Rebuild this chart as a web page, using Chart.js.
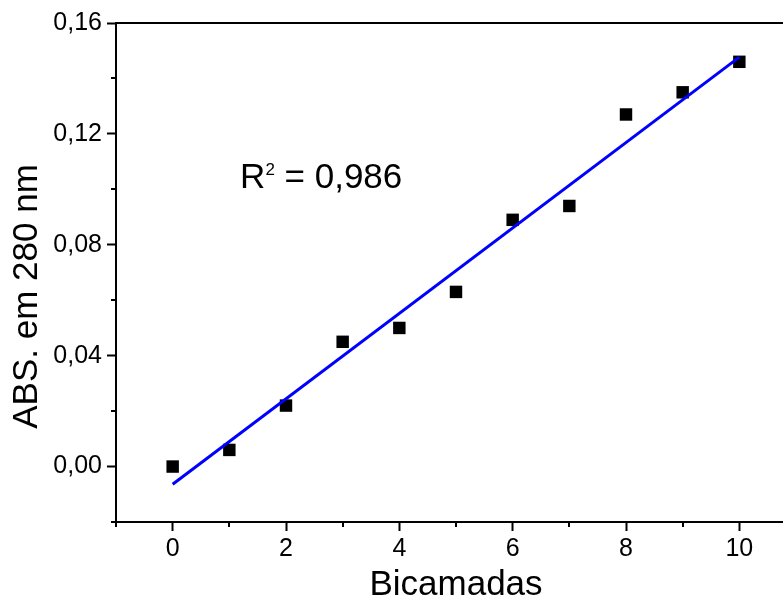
<!DOCTYPE html>
<html>
<head>
<meta charset="utf-8">
<script src="https://cdn.jsdelivr.net/npm/chart.js@4/dist/chart.umd.min.js"></script>
<style>
  html, body { margin: 0; padding: 0; background: #fff; overflow: hidden; }
  #wrap { position: relative; width: 820px; height: 599px; }
</style>
</head>
<body>
<div id="wrap"><canvas id="c"></canvas></div>
<script>
// ---- data ----
const bilayers = [0, 1, 2, 3, 4, 5, 6, 7, 8, 9, 10];
const absorbance = [0.000, 0.006, 0.022, 0.045, 0.050, 0.063, 0.089, 0.094, 0.127, 0.135, 0.146];
const fitX = [0, 10];
const fitY = [-0.0064, 0.1477];
const xMajorTicks = [0, 2, 4, 6, 8, 10];
const yMajorTicks = [0.00, 0.04, 0.08, 0.12, 0.16];
const xTitle = 'Bicamadas';
const yTitle = 'ABS. em 280 nm';
const annotationMain = 'R';
const annotationSup = '2';
const annotationRest = ' = 0,986';

const FONT = '"Liberation Sans", Arial, Helvetica, sans-serif';
const near = (v, arr) => arr.some(a => Math.abs(a - v) < 1e-6);

const pointsData = bilayers.map((x, i) => ({ x: x, y: absorbance[i] }));
const fitData = fitX.map((x, i) => ({ x: x, y: fitY[i] }));

const framePlugin = {
  id: 'frame',
  afterDraw(chart) {
    const ctx = chart.ctx;
    const a = chart.chartArea;
    const xs = chart.scales.x, ys = chart.scales.y;
    ctx.save();
    ctx.strokeStyle = '#000';
    ctx.lineWidth = 2;
    // top and right frame
    ctx.beginPath();
    ctx.moveTo(a.left, a.top);
    ctx.lineTo(a.right, a.top);
    ctx.lineTo(a.right, a.bottom);
    ctx.stroke();
    // minor ticks
    xs.ticks.forEach(t => {
      if (!near(t.value, xMajorTicks)) {
        const px = Math.round(xs.getPixelForValue(t.value));
        ctx.beginPath();
        ctx.moveTo(px, a.bottom);
        ctx.lineTo(px, a.bottom + 5);
        ctx.stroke();
      }
    });
    ys.ticks.forEach(t => {
      if (!near(t.value, yMajorTicks)) {
        const py = Math.round(ys.getPixelForValue(t.value));
        ctx.beginPath();
        ctx.moveTo(a.left, py);
        ctx.lineTo(a.left - 5, py);
        ctx.stroke();
      }
    });
    // y-axis title (rotated), centred a little below the plot middle as in the reference
    ctx.fillStyle = '#000';
    ctx.save();
    ctx.translate(37, (a.top + a.bottom) / 2 + 24);
    ctx.rotate(-Math.PI / 2);
    ctx.font = '35px ' + FONT;
    ctx.textAlign = 'center';
    ctx.textBaseline = 'alphabetic';
    ctx.fillText(yTitle, 0, 0);
    ctx.restore();
    // annotation R^2 = 0,986 (placed in data coordinates)
    const ax = xs.getPixelForValue(1.19);
    const ay = ys.getPixelForValue(0.1004);
    ctx.textBaseline = 'alphabetic';
    ctx.textAlign = 'left';
    ctx.font = '35px ' + FONT;
    ctx.fillText(annotationMain, ax, ay);
    const w1 = ctx.measureText(annotationMain).width;
    ctx.font = '17px ' + FONT;
    ctx.fillText(annotationSup, ax + w1, ay - 13);
    const w2 = ctx.measureText(annotationSup).width;
    ctx.font = '35px ' + FONT;
    ctx.fillText(annotationRest, ax + w1 + w2, ay);
    ctx.restore();
  }
};

new Chart(document.getElementById('c'), {
  type: 'scatter',
  data: {
    datasets: [
      {
        label: 'ABS',
        data: pointsData,
        pointStyle: 'rect',
        pointRadius: 8.8,
        pointHoverRadius: 8.8,
        backgroundColor: '#000',
        borderColor: '#000',
        borderWidth: 0,
        showLine: false,
        order: 1
      },
      {
        label: 'fit',
        data: fitData,
        showLine: true,
        borderColor: '#0000ff',
        borderWidth: 3,
        pointRadius: 0,
        fill: false,
        order: 0
      }
    ]
  },
  options: {
    responsive: true,
    maintainAspectRatio: false,
    animation: false,
    devicePixelRatio: 1,
    layout: { padding: { top: 23, right: 24, left: 0, bottom: 0 } },
    plugins: { legend: { display: false }, tooltip: { enabled: false } },
    scales: {
      x: {
        type: 'linear',
        min: -1,
        max: 11,
        afterFit(scale) { scale.height = 77; },
        border: { display: true, color: '#000', width: 2 },
        grid: {
          drawOnChartArea: false,
          drawTicks: true,
          tickLength: 9,
          tickWidth: 2,
          tickColor: c => near(c.tick.value, xMajorTicks) ? '#000' : 'rgba(0,0,0,0)'
        },
        ticks: {
          stepSize: 1,
          autoSkip: false,
          maxRotation: 0,
          padding: 3,
          color: '#000',
          font: { family: FONT, size: 25 },
          callback: v => near(v, xMajorTicks) ? String(Math.round(v)) : ''
        },
        title: {
          display: true,
          text: xTitle,
          color: '#000',
          font: { family: FONT, size: 35 },
          padding: { top: 0, bottom: -7 }
        }
      },
      y: {
        type: 'linear',
        min: -0.02,
        max: 0.16,
        afterFit(scale) { scale.width = 116; },
        border: { display: true, color: '#000', width: 2 },
        grid: {
          drawOnChartArea: false,
          drawTicks: true,
          tickLength: 9,
          tickWidth: 2,
          tickColor: c => near(c.tick.value, yMajorTicks) ? '#000' : 'rgba(0,0,0,0)'
        },
        ticks: {
          stepSize: 0.02,
          autoSkip: false,
          padding: 5,
          color: '#000',
          font: { family: FONT, size: 25 },
          callback: v => near(v, yMajorTicks) ? v.toFixed(2).replace('.', ',') : ''
        },
        title: { display: false }
      }
    }
  },
  plugins: [framePlugin]
});
</script>
</body>
</html>
